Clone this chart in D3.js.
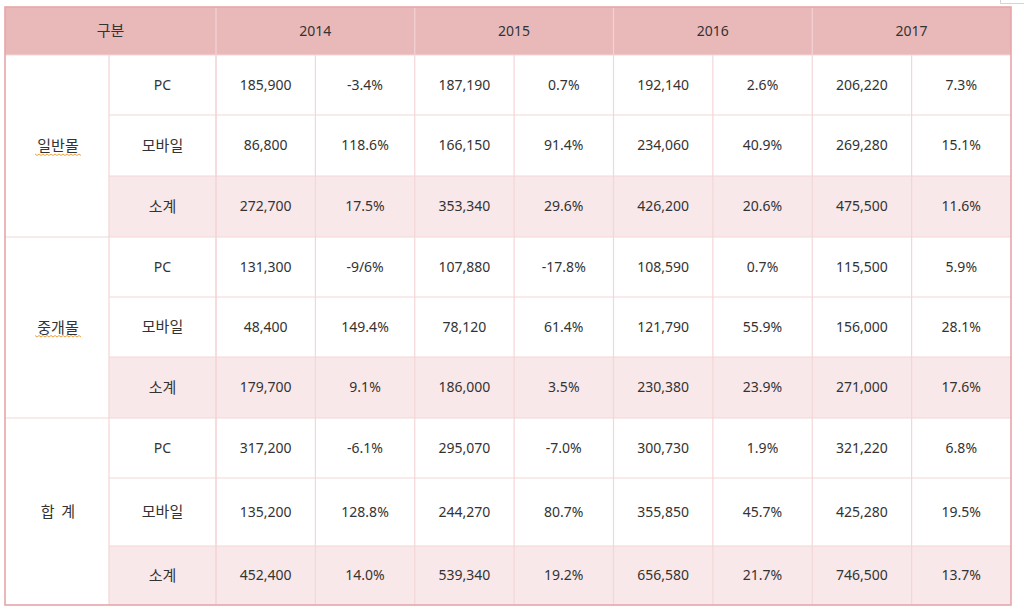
<!DOCTYPE html>
<html><head><meta charset="utf-8">
<script src="https://cdn.jsdelivr.net/npm/d3@7"></script>
<style>body{margin:0;background:#fff;}svg{display:block;}</style>
</head><body>
<svg id="chart" width="1024" height="612"></svg>
<script>
const years = ["2014", "2015", "2016", "2017"];
const groups = ["일반몰", "중개몰", "합 계"];
const types = ["PC", "모바일", "소계"];
const headerLabel = "구분";

const pcGeneral = [185900, 187190, 192140, 206220];
const pcGeneralGrowth = ["-3.4%", "0.7%", "2.6%", "7.3%"];
const mobileGeneral = [86800, 166150, 234060, 269280];
const mobileGeneralGrowth = ["118.6%", "91.4%", "40.9%", "15.1%"];
const subGeneral = [272700, 353340, 426200, 475500];
const subGeneralGrowth = ["17.5%", "29.6%", "20.6%", "11.6%"];

const pcBroker = [131300, 107880, 108590, 115500];
const pcBrokerGrowth = ["-9/6%", "-17.8%", "0.7%", "5.9%"];
const mobileBroker = [48400, 78120, 121790, 156000];
const mobileBrokerGrowth = ["149.4%", "61.4%", "55.9%", "28.1%"];
const subBroker = [179700, 186000, 230380, 271000];
const subBrokerGrowth = ["9.1%", "3.5%", "23.9%", "17.6%"];

const pcTotal = [317200, 295070, 300730, 321220];
const pcTotalGrowth = ["-6.1%", "-7.0%", "1.9%", "6.8%"];
const mobileTotal = [135200, 244270, 355850, 425280];
const mobileTotalGrowth = ["128.8%", "80.7%", "45.7%", "19.5%"];
const subTotal = [452400, 539340, 656580, 746500];
const subTotalGrowth = ["14.0%", "19.2%", "21.7%", "13.7%"];

const rowValues = [pcGeneral, mobileGeneral, subGeneral, pcBroker, mobileBroker, subBroker, pcTotal, mobileTotal, subTotal];
const rowGrowth = [pcGeneralGrowth, mobileGeneralGrowth, subGeneralGrowth, pcBrokerGrowth, mobileBrokerGrowth, subBrokerGrowth, pcTotalGrowth, mobileTotalGrowth, subTotalGrowth];

(function draw() {
  const tL = 5, tR = 1011, tT = 7, hB = 55, tB = 605;
  const col0 = 109, col1 = 216;
  const rowUnits = [60, 61, 61, 60, 60, 61, 60, 68, 59];
  const cum = [0]; rowUnits.forEach(u => cum.push(cum[cum.length - 1] + u));
  const yScale = d3.scaleLinear().domain([0, cum[cum.length - 1]]).range([hB, tB]);
  const rowTop = i => yScale(cum[i]);
  const rowBot = i => yScale(cum[i + 1]);

  const xYear = d3.scaleBand().domain(years).range([col1, tR]).paddingInner(0).paddingOuter(0);
  const half = xYear.bandwidth() / 2;

  const svg = d3.select("#chart");
  const font = "'Noto Sans','Noto Sans CJK KR',sans-serif";
  const krFont = "'Noto Sans CJK KR',sans-serif";
  const textColor = "#333";
  const lineColor = "#f4d6d7";
  const fmt = d3.format(",");

  svg.append("rect").attr("width", 1024).attr("height", 612).attr("fill", "#fff");
  svg.append("path").attr("d", "M1000.5,0 V3.5 H1024").attr("fill", "none").attr("stroke", "#d4d4d4").attr("stroke-width", 1);

  svg.append("rect").attr("x", tL).attr("y", tT).attr("width", tR - tL).attr("height", hB - tT).attr("fill", "#e9b9ba");

  rowValues.forEach((v, i) => {
    if (i % 3 === 2) {
      svg.append("rect").attr("x", col0).attr("y", rowTop(i)).attr("width", tR - col0).attr("height", rowBot(i) - rowTop(i)).attr("fill", "#f9e8e9");
    }
  });

  const hl = svg.append("g").attr("stroke", "#f3d2d3").attr("stroke-width", 1.2);
  years.forEach(y => {
    hl.append("line").attr("x1", xYear(y)).attr("x2", xYear(y)).attr("y1", tT).attr("y2", hB);
  });

  const gl = svg.append("g").attr("stroke", lineColor).attr("stroke-width", 1.2);
  gl.append("line").attr("x1", tL).attr("x2", tR).attr("y1", hB).attr("y2", hB);
  for (let i = 1; i < rowValues.length; i++) {
    const x1 = (i % 3 === 0) ? tL : col0;
    gl.append("line").attr("x1", x1).attr("x2", tR).attr("y1", rowTop(i)).attr("y2", rowTop(i));
  }
  [col0, col1].forEach(x => gl.append("line").attr("x1", x).attr("x2", x).attr("y1", hB).attr("y2", tB));
  years.forEach(y => {
    gl.append("line").attr("x1", xYear(y)).attr("x2", xYear(y)).attr("y1", hB).attr("y2", tB);
    gl.append("line").attr("x1", xYear(y) + half).attr("x2", xYear(y) + half).attr("y1", hB).attr("y2", tB);
  });

  svg.append("rect").attr("x", tL).attr("y", tT).attr("width", tR - tL).attr("height", tB - tT)
    .attr("fill", "none").attr("stroke", "#e7a6a9").attr("stroke-width", 1.6);

  const g = svg.append("g").attr("font-family", font).attr("font-size", 14).attr("fill", textColor).attr("text-anchor", "middle");
  const kr = (sel) => sel.attr("font-family", krFont).attr("font-size", 15);

  const hy = (tT + hB) / 2;
  kr(g.append("text").attr("x", (tL + col1) / 2).attr("y", hy).attr("dy", "0.35em").text(headerLabel));
  years.forEach(y => g.append("text").attr("x", xYear(y) + half).attr("y", hy).attr("dy", "0.35em").text(y));

  groups.forEach((gr, gi) => {
    const yc = (rowTop(gi * 3) + rowBot(gi * 3 + 2)) / 2;
    kr(g.append("text").attr("x", (tL + col0) / 2 + 1).attr("y", yc).attr("dy", "0.35em")
      .style("white-space", "pre").text(gr.replace(" ", "  ")));
    if (gi < 2) {
      const x0 = (tL + col0) / 2 - 22, x1 = (tL + col0) / 2 + 23, yy = yc + 8;
      let d = `M${x0},${yy}`;
      for (let x = x0, k = 0; x < x1; x += 2, k++) d += ` L${x + 2},${yy + (k % 2 === 0 ? 1.5 : 0)}`;
      svg.append("path").attr("d", d).attr("fill", "none").attr("stroke", "#f0a23c").attr("stroke-width", 1);
    }
  });

  rowValues.forEach((vals, i) => {
    const yc = (rowTop(i) + rowBot(i)) / 2;
    const t = g.append("text").attr("x", (col0 + col1) / 2).attr("y", yc).attr("dy", "0.35em").text(types[i % 3]);
    if (i % 3 !== 0) kr(t);
    years.forEach((y, yi) => {
      g.append("text").attr("x", xYear(y) + half / 2).attr("y", yc).attr("dy", "0.35em").text(fmt(vals[yi]));
      g.append("text").attr("x", xYear(y) + half * 1.5).attr("y", yc).attr("dy", "0.35em").text(rowGrowth[i][yi]);
    });
  });
})();
</script>
</body></html>
